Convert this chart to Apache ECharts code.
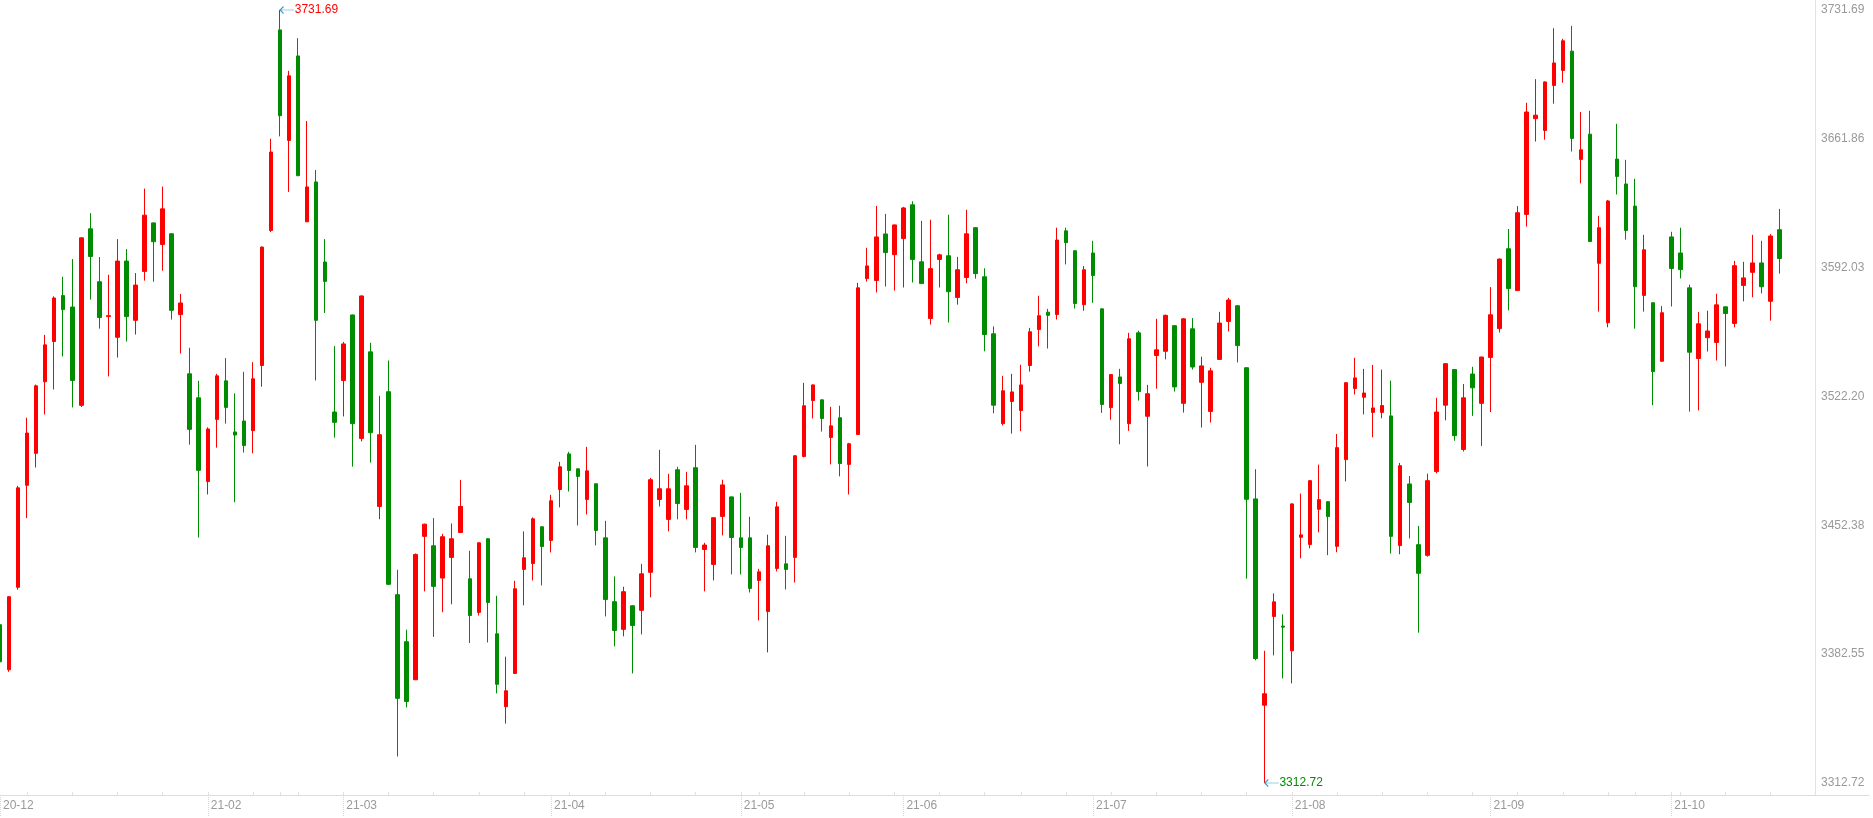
<!DOCTYPE html>
<html>
<head>
<meta charset="utf-8">
<title>K线</title>
<script src="https://cdn.jsdelivr.net/npm/echarts@6/dist/echarts.min.js"></script>
<style>
    html, body { margin: 0; padding: 0; background: #fff; }
    #kline { width: 1873px; height: 818px; }
</style>
</head>
<body>
<div id="kline"></div>
<script>
// 交易日（按月）
var monthKeys = ['2020-12', '2021-01', '2021-02', '2021-03', '2021-04', '2021-05', '2021-06', '2021-07', '2021-08', '2021-09', '2021-10'];
var monthDays = [
    [29, 30, 31],
    [4, 5, 6, 7, 8, 11, 12, 13, 14, 15, 18, 19, 20, 21, 22, 25, 26, 27, 28, 29],
    [1, 2, 3, 4, 5, 8, 9, 10, 18, 19, 22, 23, 24, 25, 26],
    [1, 2, 3, 4, 5, 8, 9, 10, 11, 12, 15, 16, 17, 18, 19, 22, 23, 24, 25, 26, 29, 30, 31],
    [1, 2, 6, 7, 8, 9, 12, 13, 14, 15, 16, 19, 20, 21, 22, 23, 26, 27, 28, 29, 30],
    [6, 7, 10, 11, 12, 13, 14, 17, 18, 19, 20, 21, 24, 25, 26, 27, 28, 31],
    [1, 2, 3, 4, 7, 8, 9, 10, 11, 15, 16, 17, 18, 21, 22, 23, 24, 25, 28, 29, 30],
    [1, 2, 5, 6, 7, 8, 9, 12, 13, 14, 15, 16, 19, 20, 21, 22, 23, 26, 27, 28, 29, 30],
    [2, 3, 4, 5, 6, 9, 10, 11, 12, 13, 16, 17, 18, 19, 20, 23, 24, 25, 26, 27, 30, 31],
    [1, 2, 3, 6, 7, 8, 9, 10, 13, 14, 15, 16, 17, 22, 23, 24, 27, 28, 29, 30],
    [8, 11, 12, 13, 14, 15, 18, 19, 20, 21, 22, 25, 26]
];

// 开盘
var opens = [
    3398.5, 3374.1, 3418.8, 3474.1, 3491.4, 3530.2, 3552.0, 3576.9, 3570.7, 3517.4,
    3613.1, 3584.4, 3565.5, 3554.3, 3595.6, 3563.5, 3590.0, 3616.3, 3604.6, 3610.4,
    3566.6, 3534.5, 3521.5, 3476.1, 3509.8, 3530.7, 3503.0, 3508.9, 3503.7, 3539.0,
    3612.2, 3720.9, 3661.0, 3706.8, 3616.9, 3638.5, 3595.1, 3513.8, 3530.9, 3566.4,
    3499.5, 3546.4, 3462.6, 3524.8, 3414.8, 3389.3, 3368.7, 3446.4, 3441.3, 3423.8,
    3435.0, 3448.5, 3423.4, 3405.2, 3445.1, 3393.6, 3354.1, 3372.1, 3428.5, 3431.7,
    3451.6, 3444.2, 3471.8, 3491.1, 3483.0, 3466.4, 3474.9, 3445.6, 3411.0, 3396.0,
    3408.8, 3406.3, 3426.9, 3466.4, 3455.6, 3482.5, 3461.0, 3483.6, 3439.3, 3431.2,
    3457.2, 3467.8, 3445.6, 3445.6, 3422.5, 3405.7, 3429.0, 3431.5, 3435.0, 3489.7,
    3520.0, 3520.4, 3500.0, 3510.7, 3485.4, 3501.6, 3586.1, 3585.1, 3610.3, 3599.1,
    3607.8, 3626.1, 3595.2, 3564.5, 3596.5, 3598.5, 3575.9, 3586.7, 3613.7, 3587.1,
    3556.2, 3507.5, 3519.5, 3514.6, 3539.0, 3558.5, 3567.9, 3566.6, 3612.0, 3601.2,
    3572.0, 3600.0, 3569.7, 3516.2, 3532.8, 3507.5, 3556.7, 3511.5, 3544.4, 3546.7,
    3560.6, 3518.5, 3558.9, 3529.9, 3514.1, 3542.3, 3562.9, 3571.4, 3537.8, 3466.7,
    3354.9, 3403.0, 3397.8, 3384.4, 3445.9, 3442.0, 3461.1, 3465.2, 3441.0, 3488.0,
    3526.5, 3521.8, 3513.6, 3513.6, 3511.7, 3441.4, 3474.8, 3441.9, 3436.1, 3481.5,
    3517.5, 3536.8, 3493.5, 3534.4, 3518.5, 3543.4, 3559.0, 3602.3, 3579.6, 3620.9,
    3672.8, 3666.4, 3690.8, 3698.9, 3709.4, 3650.7, 3664.4, 3594.4, 3562.2, 3650.9,
    3637.4, 3625.4, 3577.0, 3573.0, 3541.3, 3608.7, 3600.0, 3581.1, 3542.8, 3554.1,
    3551.5, 3570.8, 3561.8, 3582.4, 3589.5, 3594.6, 3573.8, 3612.6
];
// 收盘
var closes = [
    3378.4, 3413.7, 3472.7, 3502.4, 3528.0, 3550.2, 3575.6, 3569.3, 3530.9, 3608.2,
    3598.1, 3565.0, 3566.0, 3595.6, 3565.5, 3582.6, 3620.5, 3606.1, 3623.9, 3568.9,
    3572.9, 3504.4, 3482.2, 3504.6, 3533.4, 3516.3, 3501.3, 3495.6, 3531.8, 3603.2,
    3654.7, 3674.4, 3696.0, 3641.9, 3635.8, 3563.5, 3584.6, 3508.2, 3550.7, 3507.5,
    3576.7, 3502.6, 3501.5, 3420.4, 3358.6, 3356.9, 3436.6, 3453.0, 3419.3, 3446.2,
    3445.1, 3462.6, 3403.5, 3442.9, 3410.6, 3366.2, 3362.7, 3418.0, 3434.8, 3455.9,
    3440.9, 3465.7, 3484.1, 3482.1, 3478.9, 3481.9, 3449.6, 3412.2, 3395.4, 3416.4,
    3398.1, 3426.1, 3477.1, 3472.2, 3472.2, 3464.2, 3473.8, 3440.4, 3441.7, 3456.5,
    3474.3, 3445.8, 3440.4, 3418.2, 3427.2, 3441.3, 3462.4, 3428.5, 3490.1, 3517.2,
    3528.5, 3510.3, 3506.3, 3485.9, 3496.6, 3581.1, 3593.0, 3608.7, 3600.2, 3615.2,
    3624.4, 3596.5, 3583.4, 3591.5, 3599.0, 3579.0, 3590.9, 3610.4, 3588.8, 3555.8,
    3517.5, 3525.3, 3524.7, 3528.5, 3557.3, 3566.0, 3566.2, 3607.0, 3605.6, 3572.6,
    3590.9, 3587.8, 3517.9, 3534.1, 3529.3, 3553.5, 3524.9, 3523.7, 3547.5, 3566.2,
    3527.4, 3564.3, 3538.2, 3538.8, 3536.1, 3562.0, 3574.5, 3549.8, 3466.5, 3380.2,
    3361.1, 3410.9, 3397.2, 3464.0, 3447.2, 3476.6, 3466.3, 3457.1, 3494.5, 3529.7,
    3532.3, 3524.1, 3516.0, 3517.3, 3446.4, 3484.7, 3464.8, 3426.4, 3476.6, 3513.8,
    3540.0, 3501.0, 3521.5, 3526.9, 3543.6, 3566.5, 3596.7, 3580.7, 3621.8, 3676.4,
    3674.7, 3692.7, 3703.0, 3715.0, 3662.1, 3655.9, 3606.2, 3613.7, 3628.2, 3641.5,
    3612.2, 3581.7, 3601.7, 3535.7, 3567.6, 3591.6, 3591.0, 3546.2, 3561.6, 3557.7,
    3571.9, 3567.2, 3593.1, 3586.5, 3594.6, 3581.7, 3609.2, 3597.0
];
// 最低
var lows = [
    3375.2, 3373.0, 3417.5, 3456.3, 3483.7, 3512.5, 3526.0, 3543.9, 3516.3, 3516.5,
    3574.7, 3559.0, 3533.1, 3543.3, 3552.0, 3555.8, 3585.0, 3584.4, 3590.4, 3563.9,
    3545.5, 3496.1, 3445.8, 3469.1, 3494.5, 3507.5, 3464.9, 3491.8, 3491.4, 3527.5,
    3611.3, 3663.2, 3633.1, 3641.6, 3616.7, 3530.9, 3567.5, 3499.9, 3511.4, 3484.2,
    3497.9, 3486.4, 3455.7, 3420.0, 3327.1, 3353.7, 3368.5, 3416.6, 3391.9, 3405.3,
    3409.6, 3448.3, 3388.6, 3403.5, 3388.9, 3361.3, 3344.9, 3371.8, 3409.0, 3422.5,
    3419.8, 3437.7, 3462.1, 3470.7, 3452.3, 3458.3, 3441.5, 3403.0, 3386.8, 3392.2,
    3372.1, 3393.3, 3413.3, 3462.6, 3449.1, 3455.6, 3455.6, 3437.7, 3416.6, 3422.5,
    3446.9, 3425.8, 3425.8, 3416.0, 3400.8, 3383.5, 3427.4, 3417.6, 3421.4, 3489.2,
    3510.3, 3503.2, 3485.4, 3478.9, 3469.1, 3501.4, 3584.5, 3578.6, 3581.8, 3579.6,
    3581.3, 3584.0, 3583.2, 3561.2, 3581.3, 3562.3, 3572.0, 3583.6, 3586.1, 3546.7,
    3513.1, 3506.5, 3502.1, 3503.4, 3535.7, 3549.4, 3548.2, 3563.9, 3593.8, 3569.9,
    3568.7, 3573.0, 3513.3, 3509.6, 3496.3, 3503.6, 3520.0, 3484.3, 3526.4, 3542.3,
    3524.9, 3513.5, 3536.8, 3505.4, 3508.1, 3542.1, 3557.5, 3540.7, 3423.5, 3379.2,
    3312.72, 3381.9, 3369.4, 3366.7, 3434.5, 3439.9, 3448.6, 3436.2, 3437.8, 3476.2,
    3523.3, 3512.5, 3500.1, 3510.4, 3437.1, 3436.7, 3445.3, 3394.2, 3435.4, 3480.6,
    3509.3, 3498.2, 3492.4, 3511.7, 3495.4, 3513.8, 3556.9, 3568.9, 3579.4, 3614.3,
    3660.4, 3661.4, 3680.9, 3692.3, 3655.0, 3637.7, 3606.0, 3568.2, 3559.7, 3631.7,
    3607.2, 3559.0, 3568.2, 3517.5, 3541.1, 3571.0, 3586.2, 3514.0, 3514.7, 3546.6,
    3541.7, 3538.5, 3559.7, 3573.8, 3576.0, 3578.1, 3563.3, 3588.8
];
// 最高
var highs = [
    3406.1, 3414.0, 3473.8, 3510.7, 3528.7, 3555.6, 3576.5, 3587.1, 3596.7, 3608.5,
    3621.6, 3597.8, 3588.2, 3607.5, 3602.1, 3589.1, 3634.9, 3616.5, 3636.0, 3610.6,
    3577.8, 3548.6, 3530.7, 3505.5, 3534.5, 3543.0, 3523.9, 3535.6, 3540.8, 3603.5,
    3661.9, 3731.69, 3698.7, 3716.4, 3671.5, 3645.0, 3607.5, 3549.5, 3551.8, 3566.6,
    3577.0, 3551.3, 3522.6, 3541.7, 3428.3, 3395.8, 3437.1, 3453.3, 3456.3, 3447.8,
    3453.4, 3477.0, 3438.6, 3443.2, 3445.3, 3414.2, 3381.2, 3422.3, 3449.1, 3456.7,
    3451.8, 3468.9, 3486.8, 3492.2, 3483.2, 3494.9, 3475.1, 3454.8, 3424.7, 3419.1,
    3409.0, 3431.5, 3478.1, 3493.3, 3480.3, 3484.1, 3481.4, 3496.0, 3442.9, 3456.7,
    3477.1, 3468.0, 3470.0, 3457.0, 3428.8, 3447.3, 3465.1, 3446.7, 3490.3, 3529.6,
    3528.7, 3520.6, 3516.6, 3517.2, 3497.1, 3583.8, 3602.8, 3625.5, 3621.2, 3615.4,
    3625.0, 3628.0, 3617.4, 3618.0, 3599.6, 3620.7, 3597.9, 3623.4, 3613.9, 3591.7,
    3560.2, 3533.4, 3534.5, 3539.4, 3559.4, 3576.8, 3569.7, 3613.7, 3613.7, 3601.4,
    3592.9, 3606.6, 3569.9, 3534.3, 3537.2, 3556.7, 3557.9, 3528.5, 3564.3, 3566.6,
    3560.8, 3564.7, 3564.7, 3543.8, 3537.8, 3568.1, 3575.7, 3571.6, 3538.0, 3482.8,
    3384.4, 3415.5, 3404.1, 3464.3, 3469.6, 3476.8, 3485.3, 3465.4, 3501.9, 3530.0,
    3543.2, 3537.2, 3539.3, 3536.8, 3530.8, 3486.2, 3479.1, 3452.1, 3480.4, 3521.5,
    3540.2, 3537.0, 3529.0, 3538.3, 3543.8, 3581.5, 3597.0, 3613.0, 3625.4, 3681.4,
    3694.2, 3693.0, 3721.8, 3716.1, 3723.1, 3676.4, 3677.1, 3620.1, 3628.7, 3670.0,
    3650.5, 3640.2, 3609.8, 3573.2, 3571.2, 3611.5, 3613.7, 3582.8, 3568.0, 3568.7,
    3577.9, 3571.0, 3595.7, 3595.2, 3609.8, 3606.6, 3610.2, 3623.9
];

// 右侧刻度
var yTicks = [3312.72, 3382.55, 3452.38, 3522.20, 3592.03, 3661.86, 3731.69];

var upColor = '#ff0000';
var downColor = '#008c00';

var dates = [];
monthKeys.forEach(function (m, i) {
    monthDays[i].forEach(function (d) {
        dates.push(m + '-' + (d < 10 ? '0' + d : d));
    });
});

var candles = dates.map(function (d, i) {
    return [opens[i], closes[i], lows[i], highs[i]];
});

// 月份标签位置（过近的略去）、每周第一个交易日
var monthStart = {};
var weekStart = {};
var lastLabel = -100;
dates.forEach(function (d, i) {
    if (i === 0 || d.slice(0, 7) !== dates[i - 1].slice(0, 7)) {
        if (i - lastLabel >= 10) {
            monthStart[i] = true;
            lastLabel = i;
        }
    }
    if (i > 0) {
        var cur = new Date(d + 'T00:00:00');
        var prev = new Date(dates[i - 1] + 'T00:00:00');
        var curDow = (cur.getDay() + 6) % 7;
        var mon = cur.getTime() - curDow * 86400000;
        if (prev.getTime() < mon) weekStart[i] = true;
    }
});

var chart = echarts.init(document.getElementById('kline'));
var option = {
    animation: false,
    textStyle: { fontFamily: 'Arial, "Liberation Sans", sans-serif' },
    grid: { left: 0, right: 3, top: 0, bottom: 23 },
    xAxis: [
        {
            type: 'category',
            data: dates,
            max: 207,
            boundaryGap: false,
            axisLine: { lineStyle: { color: '#d6d6d6', type: 'dotted' } },
            axisTick: {
                length: 22,
                interval: function (idx) { return !!monthStart[idx]; },
                lineStyle: { color: '#d6d6d6', type: 'dotted' }
            },
            axisLabel: {
                interval: function (idx) { return !!monthStart[idx]; },
                align: 'left',
                margin: 5,
                padding: [0, 0, 0, 3],
                color: '#999',
                fontSize: 12,
                formatter: function (v) { return v ? v.slice(2, 7) : ''; }
            },
            splitLine: { show: false }
        },
        {
            type: 'category',
            data: dates,
            max: 207,
            boundaryGap: false,
            position: 'bottom',
            axisLine: { show: false },
            axisLabel: { show: false },
            axisTick: {
                inside: true,
                length: 3,
                interval: function (idx) { return !!weekStart[idx]; },
                lineStyle: { color: '#e0e0e0' }
            },
            splitLine: { show: false }
        }
    ],
    yAxis: {
        type: 'value',
        position: 'right',
        offset: -55,
        min: yTicks[0] - 6.5,
        max: yTicks[yTicks.length - 1] + 5.42,
        axisLine: { show: true, lineStyle: { color: '#dcdcdc', type: 'dotted' } },
        axisTick: { show: false },
        splitLine: { show: false },
        axisLabel: {
            customValues: yTicks,
            margin: 6,
            color: '#999',
            fontSize: 12,
            formatter: function (v) { return v.toFixed(2); }
        }
    },
    series: [
        {
            type: 'candlestick',
            data: candles,
            barWidth: 4,
            itemStyle: {
                color: upColor,
                color0: downColor,
                borderColor: upColor,
                borderColor0: downColor,
                borderWidth: 1
            },
            markPoint: {
                silent: true,
                symbol: 'path://M0,4 L16,4 M4,0 L0,4 L4,8',
                symbolSize: [14, 7],
                symbolOffset: ['50%', 0],
                itemStyle: { color: 'transparent', borderColor: '#3a9ac4', borderWidth: 1 },
                label: {
                    show: true,
                    position: 'right',
                    distance: 0,
                    fontSize: 12,
                    formatter: function (p) { return Number(p.value).toFixed(2); }
                },
                data: [
                    { type: 'max', valueDim: 'highest', label: { color: upColor } },
                    { type: 'min', valueDim: 'lowest', label: { color: downColor } }
                ]
            }
        }
    ]
};
chart.setOption(option);
</script>
</body>
</html>
